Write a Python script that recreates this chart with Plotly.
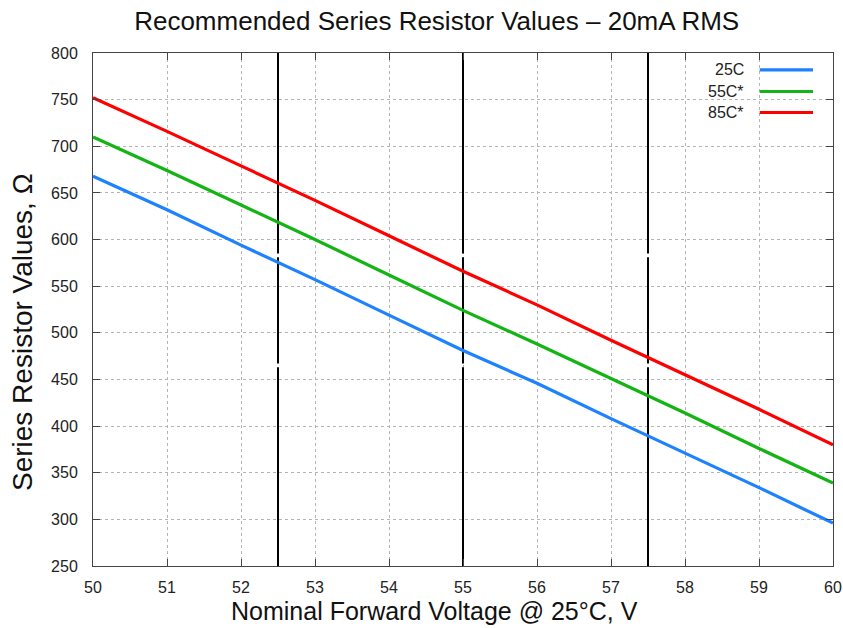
import plotly.graph_objects as go

# ---- data ----
voltage = [50, 51, 52, 53, 54, 55, 56, 57, 58, 59, 60]
r_25c = [668, 632, 594, 557, 519, 481, 446, 408, 371, 334, 296]
r_55c = [710, 674, 637, 600, 562, 524, 488, 451, 414, 376, 339]
r_85c = [752, 716, 679, 642, 604, 566, 530, 492, 455, 418, 380]
series_names = ["25C", "55C*", "85C*"]
series_colors = ["#1e82ff", "#14b414", "#ff0000"]

marker_voltages = [52.5, 55, 57.5]
# vertical marker segments (y ranges) - the lines show small breaks
marker_segments = [(250, 463), (467, 581), (585, 800)]

x_ticks = list(range(50, 61))
y_ticks = list(range(250, 801, 50))

FONT = "Liberation Sans, Arial, Helvetica, sans-serif"

fig = go.Figure()

# vertical reference lines
for xv in marker_voltages:
    xs, ys = [], []
    for (a, b) in marker_segments:
        xs += [xv, xv, None]
        ys += [a, b, None]
    fig.add_trace(go.Scatter(x=xs, y=ys, mode="lines",
                             line=dict(color="black", width=2),
                             showlegend=False, hoverinfo="skip"))

for name, vals, col in zip(series_names, [r_25c, r_55c, r_85c], series_colors):
    fig.add_trace(go.Scatter(x=voltage, y=vals, mode="lines", name=name,
                             line=dict(color=col, width=3.2), showlegend=False))

# custom legend (text right of which the sample line is drawn)
leg_rows = [0.967, 0.925, 0.884]
for name, col, yy in zip(series_names, series_colors, leg_rows):
    fig.add_annotation(xref="paper", yref="paper", x=0.882, y=yy, text=name,
                       showarrow=False, xanchor="right", yanchor="middle",
                       font=dict(family=FONT, size=16, color="#222"))
    fig.add_shape(type="line", xref="paper", yref="paper", x0=0.901, x1=0.973,
                  y0=yy, y1=yy, line=dict(color=col, width=3.2))

# axis titles as annotations
fig.add_annotation(xref="paper", yref="paper", x=0.462, y=-0.088,
                   text="Nominal Forward Voltage @ 25°C, V", showarrow=False,
                   xanchor="center", yanchor="middle",
                   font=dict(family=FONT, size=25, color="#111"))
fig.add_annotation(xref="paper", yref="paper", x=-0.096, y=0.456,
                   text="Series Resistor Values, Ω", showarrow=False,
                   textangle=-90, xanchor="center", yanchor="middle",
                   font=dict(family=FONT, size=28, color="#111"))

axis_common = dict(showline=True, linecolor="#444", linewidth=1, mirror="ticks",
                   ticks="inside", ticklen=7, tickcolor="#444",
                   showgrid=True, gridcolor="#b4b4b4", griddash="dot", gridwidth=1,
                   zeroline=False, automargin=False,
                   tickfont=dict(family=FONT, size=16, color="#222"))

fig.update_xaxes(range=[50, 60], tickvals=x_ticks, ticklabelstandoff=7, **axis_common)
fig.update_yaxes(range=[250, 800], tickvals=y_ticks, ticklabelstandoff=11, **axis_common)

fig.update_layout(
    width=843, height=628,
    margin=dict(l=93, r=10, t=53, b=62, autoexpand=False),
    paper_bgcolor="white", plot_bgcolor="white",
    title=dict(text="Recommended Series Resistor Values – 20mA RMS",
               x=0.518, xanchor="center", xref="container",
               y=1 - 21 / 628, yanchor="middle", yref="container",
               font=dict(family=FONT, size=26, color="#111")),
    showlegend=False,
)

fig.write_html("out.html")
